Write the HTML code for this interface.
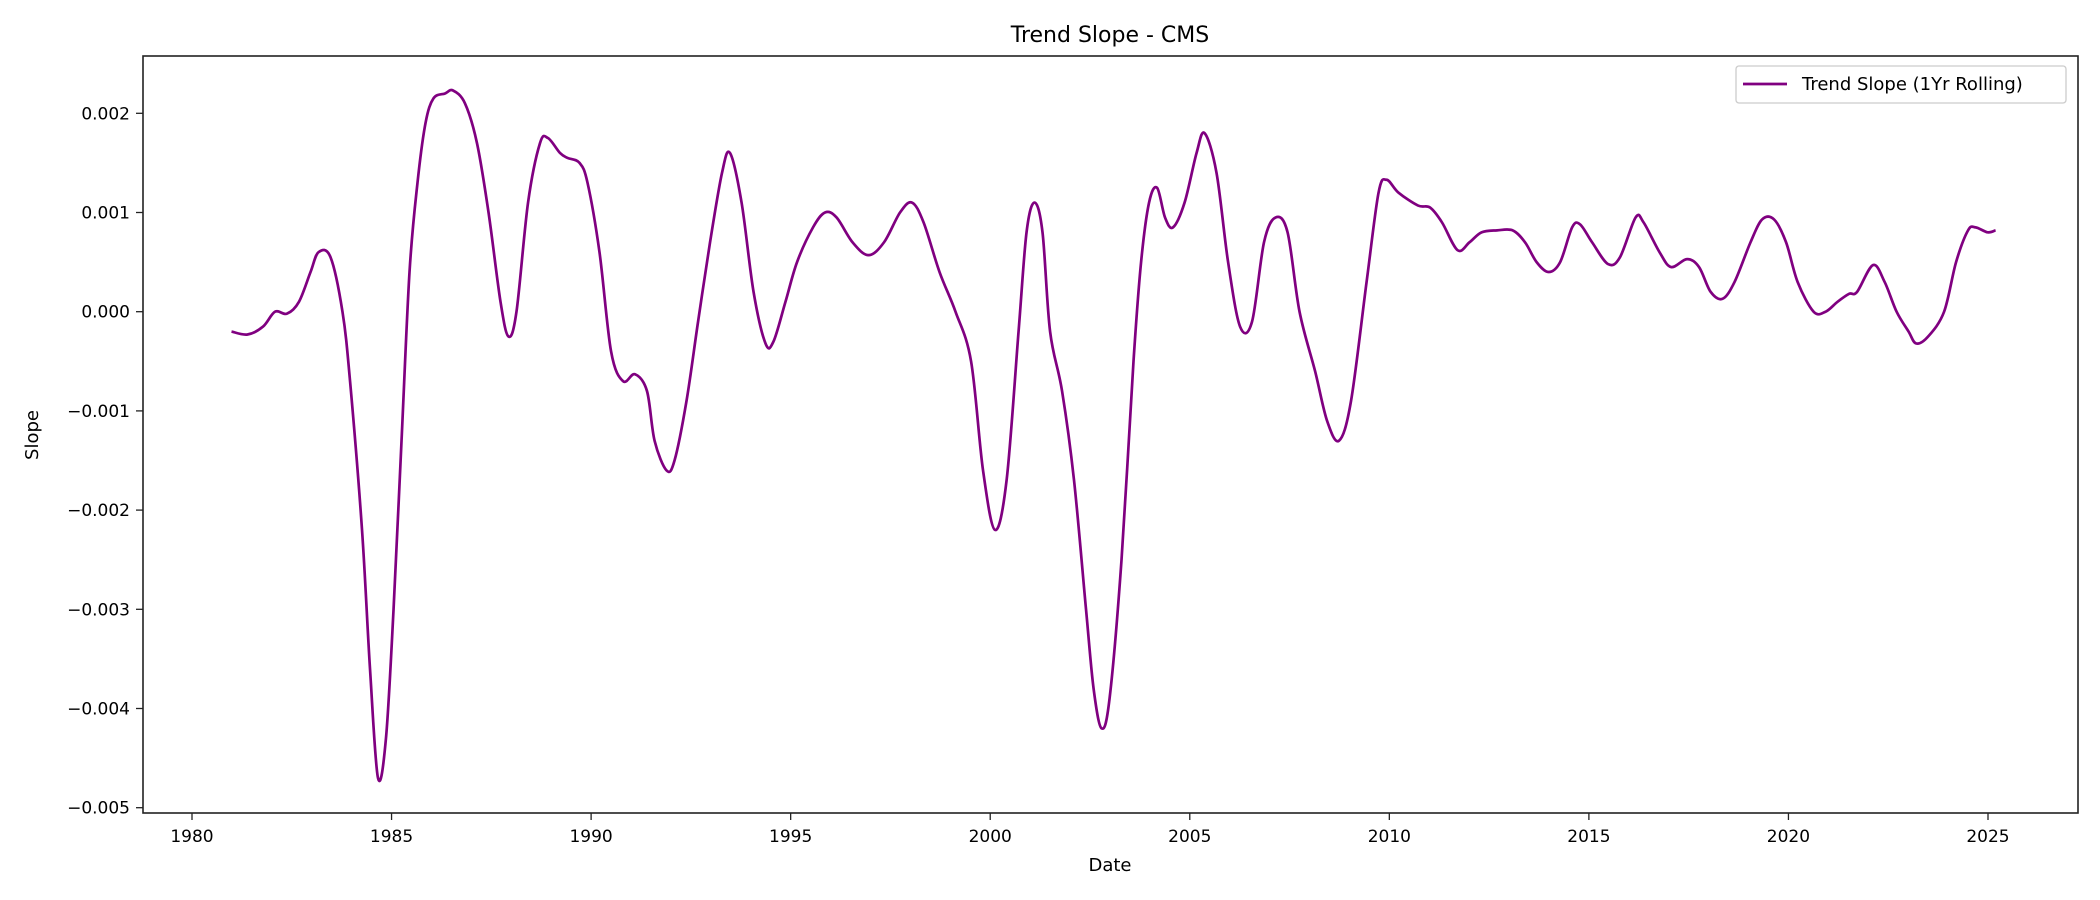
<!DOCTYPE html>
<html><head><meta charset="utf-8"><style>
body{margin:0;background:#fff;}
svg{display:block;font-family:"DejaVu Sans","Liberation Sans",sans-serif;}
</style></head><body>
<svg id="chart" width="2100" height="900" viewBox="0 0 2100 900" xmlns="http://www.w3.org/2000/svg">
<rect width="2100" height="900" fill="#fff"/>
<text x="1110" y="42" font-size="22" text-anchor="middle">Trend Slope - CMS</text>
<g id="ticks"></g>
<path id="series" fill="none" stroke="#800080" stroke-width="2.7" stroke-linejoin="round"/>
<rect x="143" y="56" width="1935" height="757" fill="none" stroke="#222" stroke-width="1.6"/>
<text x="1110" y="871" font-size="18" text-anchor="middle">Date</text>
<text transform="translate(38,435) rotate(-90)" font-size="18" text-anchor="middle">Slope</text>
<g>
<rect x="1736" y="66" width="330" height="37" rx="3" fill="#fff" stroke="#ccc" stroke-width="1.3"/>
<line x1="1743" y1="84" x2="1787" y2="84" stroke="#800080" stroke-width="2.7"/>
<text x="1802" y="90" font-size="18">Trend Slope (1Yr Rolling)</text>
</g>
</svg>
<script>
const years=[1980.99,1981.39,1981.78,1982.08,1982.38,1982.68,1982.97,1983.17,1983.47,1983.77,1983.96,1984.26,1984.46,1984.66,1984.86,1985.05,1985.25,1985.45,1985.65,1985.85,1986.05,1986.34,1986.54,1986.84,1987.14,1987.43,1987.73,1987.93,1988.13,1988.42,1988.72,1988.92,1989.22,1989.41,1989.71,1989.91,1990.21,1990.50,1990.80,1991.10,1991.40,1991.59,1991.89,1992.09,1992.39,1992.68,1992.98,1993.28,1993.48,1993.77,1994.07,1994.37,1994.57,1994.87,1995.16,1995.56,1995.86,1996.15,1996.55,1996.95,1997.34,1997.74,1998.04,1998.33,1998.73,1999.13,1999.52,1999.82,2000.12,2000.41,2000.71,2000.91,2001.11,2001.31,2001.50,2001.80,2002.10,2002.40,2002.59,2002.79,2002.99,2003.29,2003.59,2003.78,2003.98,2004.18,2004.38,2004.58,2004.87,2005.17,2005.37,2005.67,2005.96,2006.26,2006.56,2006.86,2007.15,2007.45,2007.75,2008.14,2008.44,2008.74,2009.04,2009.43,2009.73,2009.93,2010.23,2010.72,2011.02,2011.32,2011.71,2012.01,2012.31,2012.70,2013.09,2013.40,2013.69,2013.99,2014.28,2014.58,2014.78,2015.08,2015.48,2015.78,2016.17,2016.37,2016.77,2017.06,2017.46,2017.76,2018.05,2018.35,2018.65,2019.05,2019.34,2019.64,2019.94,2020.23,2020.63,2020.93,2021.23,2021.52,2021.72,2022.12,2022.41,2022.71,2023.01,2023.20,2023.50,2023.90,2024.20,2024.50,2024.69,2024.99,2025.19];
const slopes=[-0.0002,-0.00023,-0.00015,0.0,-0.00002,0.0001,0.0004,0.0006,0.00055,0.0,-0.0007,-0.0022,-0.0036,-0.0047,-0.0043,-0.003,-0.0013,0.0004,0.0013,0.0019,0.00215,0.0022,0.00223,0.0021,0.0017,0.001,0.0001,-0.00025,0.0,0.0011,0.0017,0.00175,0.0016,0.00155,0.0015,0.0013,0.0006,-0.0004,-0.0007,-0.00063,-0.0008,-0.0013,-0.0016,-0.0015,-0.0009,-0.0001,0.0007,0.0014,0.0016,0.0011,0.0002,-0.00032,-0.0003,0.0001,0.0005,0.00085,0.001,0.00095,0.0007,0.00057,0.0007,0.001,0.0011,0.0009,0.0004,0.0,-0.0005,-0.0016,-0.0022,-0.0017,-0.0002,0.0008,0.0011,0.0008,-0.0002,-0.0008,-0.0017,-0.003,-0.0038,-0.0042,-0.0039,-0.0025,-0.0005,0.0005,0.0011,0.00125,0.00095,0.00085,0.0011,0.0016,0.0018,0.0014,0.0005,-0.00015,-0.0001,0.0007,0.00095,0.0008,0.0,-0.0006,-0.0011,-0.0013,-0.0009,0.0003,0.0012,0.00133,0.0012,0.00107,0.00105,0.0009,0.00062,0.0007,0.0008,0.00082,0.00082,0.0007,0.0005,0.0004,0.0005,0.00085,0.00088,0.0007,0.00048,0.00055,0.00095,0.0009,0.0006,0.00045,0.00053,0.00045,0.0002,0.00013,0.0003,0.0007,0.00093,0.00093,0.0007,0.0003,0.0,0.0,0.0001,0.00018,0.0002,0.00047,0.0003,0.0,-0.0002,-0.00032,-0.00025,0.0,0.0005,0.00082,0.00085,0.0008,0.00082];
const xTicks=[1980,1985,1990,1995,2000,2005,2010,2015,2020,2025];
const yTicks=[0.002,0.001,0.000,-0.001,-0.002,-0.003,-0.004,-0.005];
const yTickLabels=["0.002","0.001","0.000","\u22120.001","\u22120.002","\u22120.003","\u22120.004","\u22120.005"];

const X=y=>192+(y-1980)*(1988-192)/45;
const Y=v=>311.7-v*99.2/0.001;
const NS='http://www.w3.org/2000/svg';
const g=document.getElementById('ticks');
function mk(t,a){const e=document.createElementNS(NS,t);for(const k in a)e.setAttribute(k,a[k]);g.appendChild(e);return e;}
xTicks.forEach(t=>{
  const l=mk('line',{x1:X(t),x2:X(t),y1:813,y2:820,stroke:'#222','stroke-width':1.3});
  
  
  const s=mk('text',{x:X(t),y:842,'font-size':17,'text-anchor':'middle'});
  s.textContent=t;
  
  
});
yTicks.forEach((t,i)=>{
  const l=mk('line',{x1:136,x2:143,y1:Y(t),y2:Y(t),stroke:'#222','stroke-width':1.3});
  
  
  const s=mk('text',{x:130,y:Y(t)+6,'font-size':17,'text-anchor':'end'});
  s.textContent=yTickLabels[i];
  
  
});
const P=years.map((y,i)=>[X(y),Y(slopes[i])]);
let d='M'+P[0][0]+','+P[0][1];
for(let i=0;i<P.length-1;i++){
  const p0=P[Math.max(0,i-1)],p1=P[i],p2=P[i+1],p3=P[Math.min(P.length-1,i+2)];
  const c1=[p1[0]+(p2[0]-p0[0])/6,p1[1]+(p2[1]-p0[1])/6];
  const c2=[p2[0]-(p3[0]-p1[0])/6,p2[1]-(p3[1]-p1[1])/6];
  d+=' C'+c1[0]+','+c1[1]+' '+c2[0]+','+c2[1]+' '+p2[0]+','+p2[1];
}
document.getElementById('series').setAttribute('d',d);
</script>
</body></html>
